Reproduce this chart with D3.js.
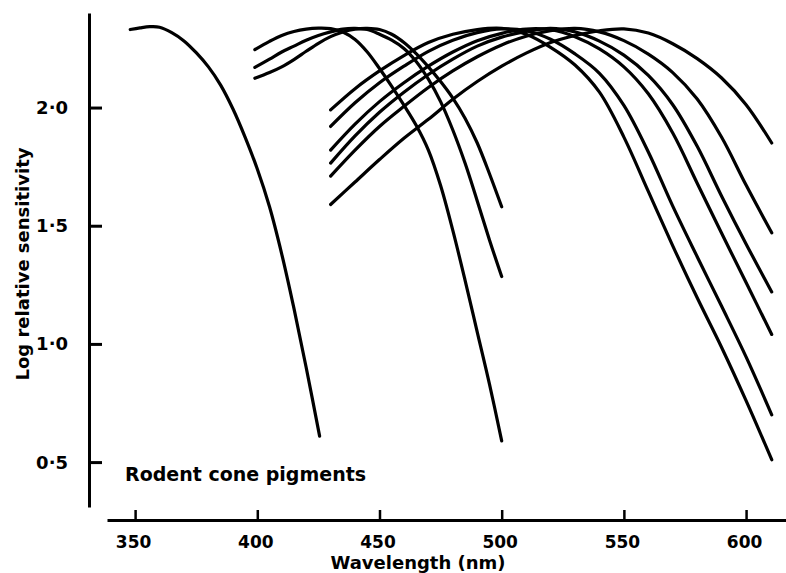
<!DOCTYPE html>
<html>
<head>
<meta charset="utf-8">
<script src="https://cdn.jsdelivr.net/npm/d3@7"></script>
<style>
  html, body { margin: 0; padding: 0; background: #fff; }
  svg { display: block; }
  text { font-family: "DejaVu Sans", sans-serif; font-weight: bold; fill: #000; }
</style>
</head>
<body>
<svg id="chart" width="786" height="573"></svg>
<script>
// Axis ticks
const xTicks = [350, 400, 450, 500, 550, 600];
const yTicks = [0.5, 1.0, 1.5, 2.0];

// Ultraviolet pigment
const uvNm  = [348, 352, 356, 360, 365, 370, 375, 380, 385, 390, 395, 400, 405, 410, 415, 420, 425.5];
const uvLog = [2.33, 2.337, 2.342, 2.34, 2.317, 2.282, 2.232, 2.172, 2.095, 1.995, 1.875, 1.74, 1.58, 1.38, 1.15, 0.90, 0.61];

// Short-wavelength (blue) pigments
const blueNm   = [399, 405, 410, 415, 420, 425, 430, 435, 440, 445, 450, 455, 460, 465, 470, 475, 480, 485, 490, 495, 500];
const blue1Log = [2.245, 2.28, 2.305, 2.322, 2.332, 2.336, 2.334, 2.32, 2.288, 2.235, 2.165, 2.09, 2.01, 1.925, 1.82, 1.67, 1.48, 1.27, 1.05, 0.83, 0.59];
const blue2Log = [2.17, 2.205, 2.235, 2.26, 2.285, 2.305, 2.32, 2.332, 2.335, 2.33, 2.31, 2.285, 2.25, 2.195, 2.12, 2.025, 1.905, 1.765, 1.605, 1.44, 1.285];
const blue3Log = [2.124, 2.148, 2.172, 2.203, 2.238, 2.272, 2.3, 2.32, 2.332, 2.335, 2.33, 2.31, 2.275, 2.228, 2.172, 2.11, 2.04, 1.955, 1.85, 1.72, 1.58];

// Middle-wavelength (green) pigments
const greenNm   = [430, 440, 450, 460, 470, 480, 490, 500, 510, 520, 530, 540, 550, 560, 570, 580, 590, 600, 610.5];
const green1Log = [1.99, 2.08, 2.155, 2.22, 2.275, 2.31, 2.33, 2.335, 2.31, 2.255, 2.18, 2.065, 1.875, 1.645, 1.415, 1.195, 0.985, 0.76, 0.51];
const green2Log = [1.92, 2.02, 2.105, 2.175, 2.238, 2.285, 2.317, 2.333, 2.325, 2.289, 2.227, 2.145, 2.009, 1.812, 1.583, 1.369, 1.159, 0.945, 0.70];
const green3Log = [1.82, 1.93, 2.025, 2.105, 2.175, 2.235, 2.283, 2.314, 2.332, 2.329, 2.30, 2.248, 2.172, 2.058, 1.892, 1.68, 1.468, 1.26, 1.04];
const green4Log = [1.765, 1.88, 1.98, 2.065, 2.14, 2.205, 2.26, 2.298, 2.322, 2.335, 2.32, 2.281, 2.222, 2.136, 2.012, 1.836, 1.625, 1.423, 1.22];
const green5Log = [1.71, 1.82, 1.92, 2.005, 2.085, 2.155, 2.215, 2.265, 2.302, 2.325, 2.335, 2.32, 2.283, 2.226, 2.148, 2.036, 1.874, 1.672, 1.47];
const green6Log = [1.59, 1.685, 1.78, 1.87, 1.95, 2.035, 2.11, 2.175, 2.23, 2.275, 2.305, 2.325, 2.333, 2.315, 2.27, 2.207, 2.125, 2.012, 1.85];

const pigments = [
  [uvNm, uvLog],
  [blueNm, blue1Log], [blueNm, blue2Log], [blueNm, blue3Log],
  [greenNm, green1Log], [greenNm, green2Log], [greenNm, green3Log],
  [greenNm, green4Log], [greenNm, green5Log], [greenNm, green6Log]
].map(([nm, lg]) => nm.map((w, i) => [w, lg[i]]));

const svg = d3.select("#chart");

const x = d3.scaleLinear().domain([338.5, 616.5]).range([107, 786.4]);
const y = d3.scaleLinear().domain([0.31, 2.40]).range([507, 13]);

const fmt = d => d3.format(".1f")(d).replace(".", "\u00B7");

// x axis: ticks point up into the plot
const gx = svg.append("g")
  .attr("transform", "translate(0,520)")
  .call(d3.axisBottom(x).tickValues(xTicks).tickSizeInner(-10).tickSizeOuter(0).tickFormat(d3.format("d")));
gx.select(".domain").attr("stroke", "#000").attr("stroke-width", 3);
gx.selectAll(".tick line").attr("stroke", "#000").attr("stroke-width", 2.5);
gx.selectAll(".tick text").attr("x", -2).attr("y", 28).attr("dy", null)
  .attr("font-size", 17).attr("font-family", "DejaVu Sans").attr("font-weight", "bold");

// y axis: ticks point right into the plot
const gy = svg.append("g")
  .attr("transform", "translate(89,0)")
  .call(d3.axisLeft(y).tickValues(yTicks).tickSizeInner(-13).tickSizeOuter(0).tickFormat(fmt));
gy.select(".domain").attr("stroke", "#000").attr("stroke-width", 3);
gy.selectAll(".tick line").attr("stroke", "#000").attr("stroke-width", 3);
gy.selectAll(".tick text").attr("x", -21).attr("dy", "0.33em")
  .attr("font-size", 18).attr("font-family", "DejaVu Sans").attr("font-weight", "bold");

// Spectral sensitivity curves
const line = d3.line()
  .x(d => x(d[0]))
  .y(d => y(d[1]))
  .curve(d3.curveCatmullRom.alpha(0.5));

svg.append("g")
  .selectAll("path")
  .data(pigments)
  .join("path")
  .attr("d", line)
  .attr("fill", "none")
  .attr("stroke", "#000")
  .attr("stroke-width", 3.2)
  .attr("stroke-linecap", "round")
  .attr("stroke-linejoin", "round");

// Labels
svg.append("text")
  .attr("x", 125).attr("y", 481)
  .attr("font-size", 19)
  .text("Rodent cone pigments");

svg.append("text")
  .attr("x", 418).attr("y", 569)
  .attr("text-anchor", "middle")
  .attr("font-size", 18)
  .text("Wavelength (nm)");

svg.append("text")
  .attr("transform", "translate(29,264) rotate(-90)")
  .attr("text-anchor", "middle")
  .attr("font-size", 18)
  .text("Log relative sensitivity");
</script>
</body>
</html>
